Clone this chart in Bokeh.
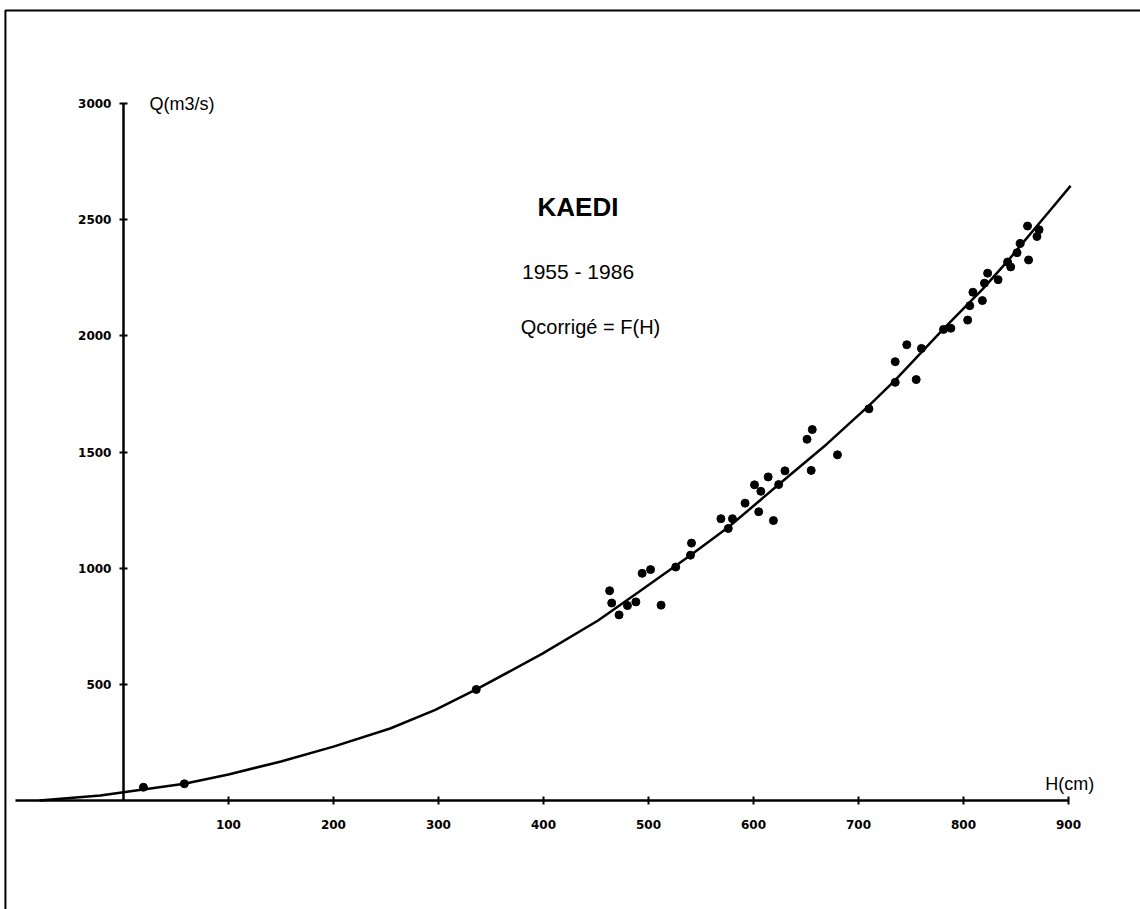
from bokeh.plotting import figure
from bokeh.models import Range1d, FixedTicker, Label, BoxAnnotation, LinearAxis
from bokeh.embed import file_html
from bokeh.resources import INLINE

# Observed gaugings: H (cm) and corrected discharge Q (m3/s)
h_obs = [19, 58, 336, 463, 465, 472, 480, 488, 494, 502, 512, 526, 541, 540,
         569, 576, 580, 592, 605, 601, 607, 614, 619, 624, 630, 655, 651, 656,
         680, 710, 735, 735, 746, 755, 760, 781, 788, 804, 806, 809, 818, 820,
         823, 833, 842, 845, 851, 854, 861, 870, 862, 872]
q_obs = [57, 72, 478, 903, 850, 799, 839, 855, 978, 994, 841, 1005, 1108, 1056,
         1213, 1171, 1213, 1280, 1243, 1359, 1331, 1393, 1205, 1360, 1419, 1421,
         1555, 1597, 1488, 1686, 1889, 1800, 1962, 1812, 1946, 2028, 2033, 2068,
         2130, 2188, 2152, 2227, 2270, 2242, 2318, 2297, 2358, 2398, 2473, 2428,
         2327, 2457]

# Rating curve Q = F(H)
h_curve = [-80, -22, 0, 58, 100, 150, 200, 254, 297, 336, 399, 452, 490, 540,
           576, 624, 670, 710, 735, 781, 818, 842, 883, 902]
q_curve = [0, 22, 36, 72, 112, 168, 232, 310, 390, 478, 632, 775, 895, 1056,
           1176, 1360, 1535, 1700, 1810, 2030, 2200, 2322, 2543, 2646]

x_ticks = [100, 200, 300, 400, 500, 600, 700, 800, 900]
y_ticks = [500, 1000, 1500, 2000, 2500, 3000]

p = figure(width=1140, height=909, output_backend="svg", toolbar_location=None,
           x_range=Range1d(-117.1, 968.6), y_range=Range1d(-469.2, 3443.8),
           x_axis_location=None, y_axis_location=None, min_border=0)
p.xgrid.visible = False
p.ygrid.visible = False
p.outline_line_color = None
p.background_fill_color = "white"
p.border_fill_color = "white"

def style_axis(ax, standoff):
    ax.axis_line_width = 2.5
    ax.axis_line_color = "black"
    ax.major_tick_line_width = 2
    ax.major_tick_line_color = "black"
    ax.major_tick_in = 4
    ax.major_tick_out = 4
    ax.minor_tick_line_color = None
    ax.major_label_text_font = "DejaVu Sans"
    ax.major_label_text_font_style = "bold"
    ax.major_label_text_font_size = "12px"
    ax.major_label_text_color = "black"
    ax.major_label_standoff = standoff

xaxis = LinearAxis(fixed_location=0, ticker=FixedTicker(ticks=x_ticks), bounds=(-103, 900))
style_axis(xaxis, 15)
p.add_layout(xaxis, "below")

yaxis = LinearAxis(fixed_location=0, ticker=FixedTicker(ticks=y_ticks), bounds=(0, 3000))
style_axis(yaxis, 8)
p.add_layout(yaxis, "left")

# page frame (scan border)
p.add_layout(BoxAnnotation(left=-112.4, right=1100, top=3401, bottom=-1000,
                           fill_alpha=0, line_color="black", line_alpha=1.0,
                           line_width=2))

p.line(h_curve, q_curve, line_color="black", line_width=2.5)
p.scatter(h_obs, q_obs, size=8, color="black")

font = "Liberation Sans"
p.add_layout(Label(x=432.9, y=2557, text="KAEDI", text_font=font, text_font_style="bold",
                   text_font_size="26px", text_align="center", text_baseline="middle",
                   text_color="black"))
p.add_layout(Label(x=432.9, y=2278, text="1955 - 1986", text_font=font,
                   text_font_size="21px", text_align="center", text_baseline="middle",
                   text_color="black"))
p.add_layout(Label(x=444.8, y=2040, text="Qcorrigé = F(H)", text_font=font,
                   text_font_size="20px", text_align="center", text_baseline="middle",
                   text_color="black"))
p.add_layout(Label(x=24.8, y=3000, text="Q(m3/s)", text_font=font,
                   text_font_size="18px", text_align="left", text_baseline="middle",
                   text_color="black"))
p.add_layout(Label(x=878, y=73, text="H(cm)", text_font=font,
                   text_font_size="18px", text_align="left", text_baseline="middle",
                   text_color="black"))

open("out.html", "w").write(file_html(p, INLINE))
